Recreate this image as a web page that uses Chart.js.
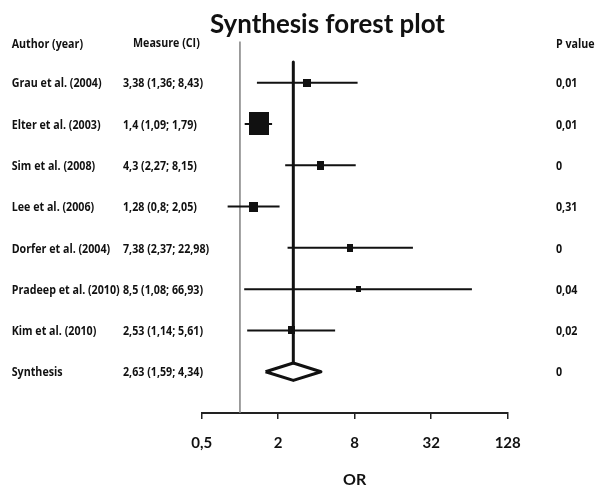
<!DOCTYPE html>
<html>
<head>
<meta charset="utf-8">
<script src="https://cdn.jsdelivr.net/npm/chart.js@4"></script>
<style>
  html, body { margin: 0; padding: 0; background: #fff; }
  #wrap { width: 595px; height: 490px; }
</style>
</head>
<body>
<div id="wrap"><canvas id="c"></canvas></div>
<script>
// ---------- data ----------
const chartTitle = "Synthesis forest plot";
const studies = ["Grau et al. (2004)", "Elter et al. (2003)", "Sim et al. (2008)", "Lee et al. (2006)",
                 "Dorfer et al. (2004)", "Pradeep et al. (2010)", "Kim et al. (2010)"];
const orValues = [3.38, 1.4, 4.3, 1.28, 7.38, 8.5, 2.53];
const ciLow    = [1.36, 1.09, 2.27, 0.8, 2.37, 1.08, 1.14];
const ciHigh   = [8.43, 1.79, 8.15, 2.05, 22.98, 66.93, 5.61];
const pValues  = ["0,01", "0,01", "0", "0,31", "0", "0,04", "0,02", "0"];
const synthesisLabel = "Synthesis";
const synthesisOR = 2.63;
const synthesisLow = 1.59;
const synthesisHigh = 4.34;
const tickValues = [0.5, 2, 8, 32, 128];
const tickLabels = ["0,5", "2", "8", "32", "128"];
const axisTitle = "OR";
const headers = { author: "Author (year)", measure: "Measure (CI)", p: "P value" };

// ---------- styles ----------
const boxW = [8, 20, 7, 9, 6, 5, 7];
const boxH = [8, 23, 9, 10, 8, 6, 8];
const diamondHalf = 0.21;
const ink = '#111';

const fmt = v => String(v).replace('.', ',');
const rowLabels = [...studies, synthesisLabel];
const measureLabels = [
  ...orValues.map((v, i) => `${fmt(v)} (${fmt(ciLow[i])}; ${fmt(ciHigh[i])})`),
  `${fmt(synthesisOR)} (${fmt(synthesisLow)}; ${fmt(synthesisHigh)})`
];
const synthRow = studies.length;

const boxImgs = boxW.map((w, i) => {
  const cv = document.createElement('canvas');
  cv.width = w; cv.height = boxH[i];
  const c = cv.getContext('2d');
  c.fillStyle = ink; c.fillRect(0, 0, w, boxH[i]);
  return cv;
});

const textPlugin = {
  id: 'forestText',
  afterDraw(chart) {
    const ctx = chart.ctx;
    const ys = chart.scales.y;
    const put = (txt, x, y, font, sx) => {
      ctx.save();
      ctx.font = font;
      ctx.fillStyle = ink;
      ctx.textAlign = 'left';
      ctx.textBaseline = 'alphabetic';
      ctx.translate(x, y);
      ctx.scale(sx, 1);
      ctx.fillText(txt, 0, 0);
      ctx.restore();
    };
    const bodyFont = 'bold 12.5px "Open Sans"';
    ctx.save(); ctx.font = bodyFont;
    const sx = 98.5 / ctx.measureText(studies[4]).width;
    const titleFont = 'bold 26px Lato';
    ctx.font = titleFont;
    const tsx = 235 / ctx.measureText(chartTitle).width;
    ctx.restore();

    put(chartTitle, 210, 33.3, titleFont, tsx);
    put(headers.author, 11.7, 47.6, bodyFont, sx);
    put(headers.measure, 133, 46.7, bodyFont, sx);
    put(headers.p, 556, 47.6, bodyFont, sx);
    rowLabels.forEach((lab, i) => {
      const y = ys.getPixelForValue(i) + 4.7;
      put(lab, 11.7, y, bodyFont, sx);
      put(measureLabels[i], 123, y, bodyFont, sx);
      put(pValues[i], 556, y, bodyFont, sx);
    });
  }
};

const lineDs = (data, width, color, order) => ({
  data, showLine: true, borderColor: color, borderWidth: width, pointRadius: 0,
  fill: false, tension: 0, order, borderJoinStyle: 'round'
});

new Chart(document.getElementById('c'), {
  type: 'scatter',
  data: {
    datasets: [
      {
        label: 'Studies',
        data: orValues.map((v, i) => ({ x: v, y: i })),
        pointStyle: boxImgs, pointRadius: 6, showLine: false, order: 0
      },
      lineDs([
        { x: synthesisLow, y: synthRow }, { x: synthesisOR, y: synthRow - diamondHalf },
        { x: synthesisHigh, y: synthRow }, { x: synthesisOR, y: synthRow + diamondHalf },
        { x: synthesisLow, y: synthRow }
      ], 3, ink, 1),
      ...ciLow.map((lo, i) => lineDs([{ x: lo, y: i }, { x: ciHigh[i], y: i }], 2, ink, 2)),
      lineDs([{ x: synthesisOR, y: -0.5 }, { x: synthesisOR, y: synthRow - diamondHalf }], 3, ink, 3),
      lineDs([{ x: 1, y: -1 }, { x: 1, y: 8 }], 1.5, '#808080', 4)
    ]
  },
  options: {
    responsive: true,
    maintainAspectRatio: false,
    animation: false,
    layout: { padding: { left: 201.7, right: 87.3, top: 41.4, bottom: 0 } },
    plugins: { legend: { display: false }, tooltip: { enabled: false }, title: { display: false } },
    scales: {
      x: {
        type: 'logarithmic', min: 0.5, max: 128, position: 'bottom',
        afterBuildTicks: s => { s.ticks = tickValues.map(v => ({ value: v })); },
        afterFit: s => { s.height = 77; },
        ticks: {
          autoSkip: false, maxRotation: 0, color: ink, padding: 15,
          font: { family: 'Lato', size: 15, weight: 'bold' },
          callback: v => tickLabels[tickValues.indexOf(v)]
        },
        grid: { display: true, drawOnChartArea: false, drawTicks: true, tickLength: 6, color: '#222', lineWidth: 1.5 },
        border: { display: true, color: '#222', width: 2 },
        title: { display: true, text: axisTitle, color: ink, font: { family: 'Lato', size: 16, weight: 'bold' }, padding: { top: 0, bottom: 1 } }
      },
      y: { type: 'linear', min: -1, max: 8, reverse: true, display: false }
    }
  },
  plugins: [textPlugin]
});
</script>
</body>
</html>
